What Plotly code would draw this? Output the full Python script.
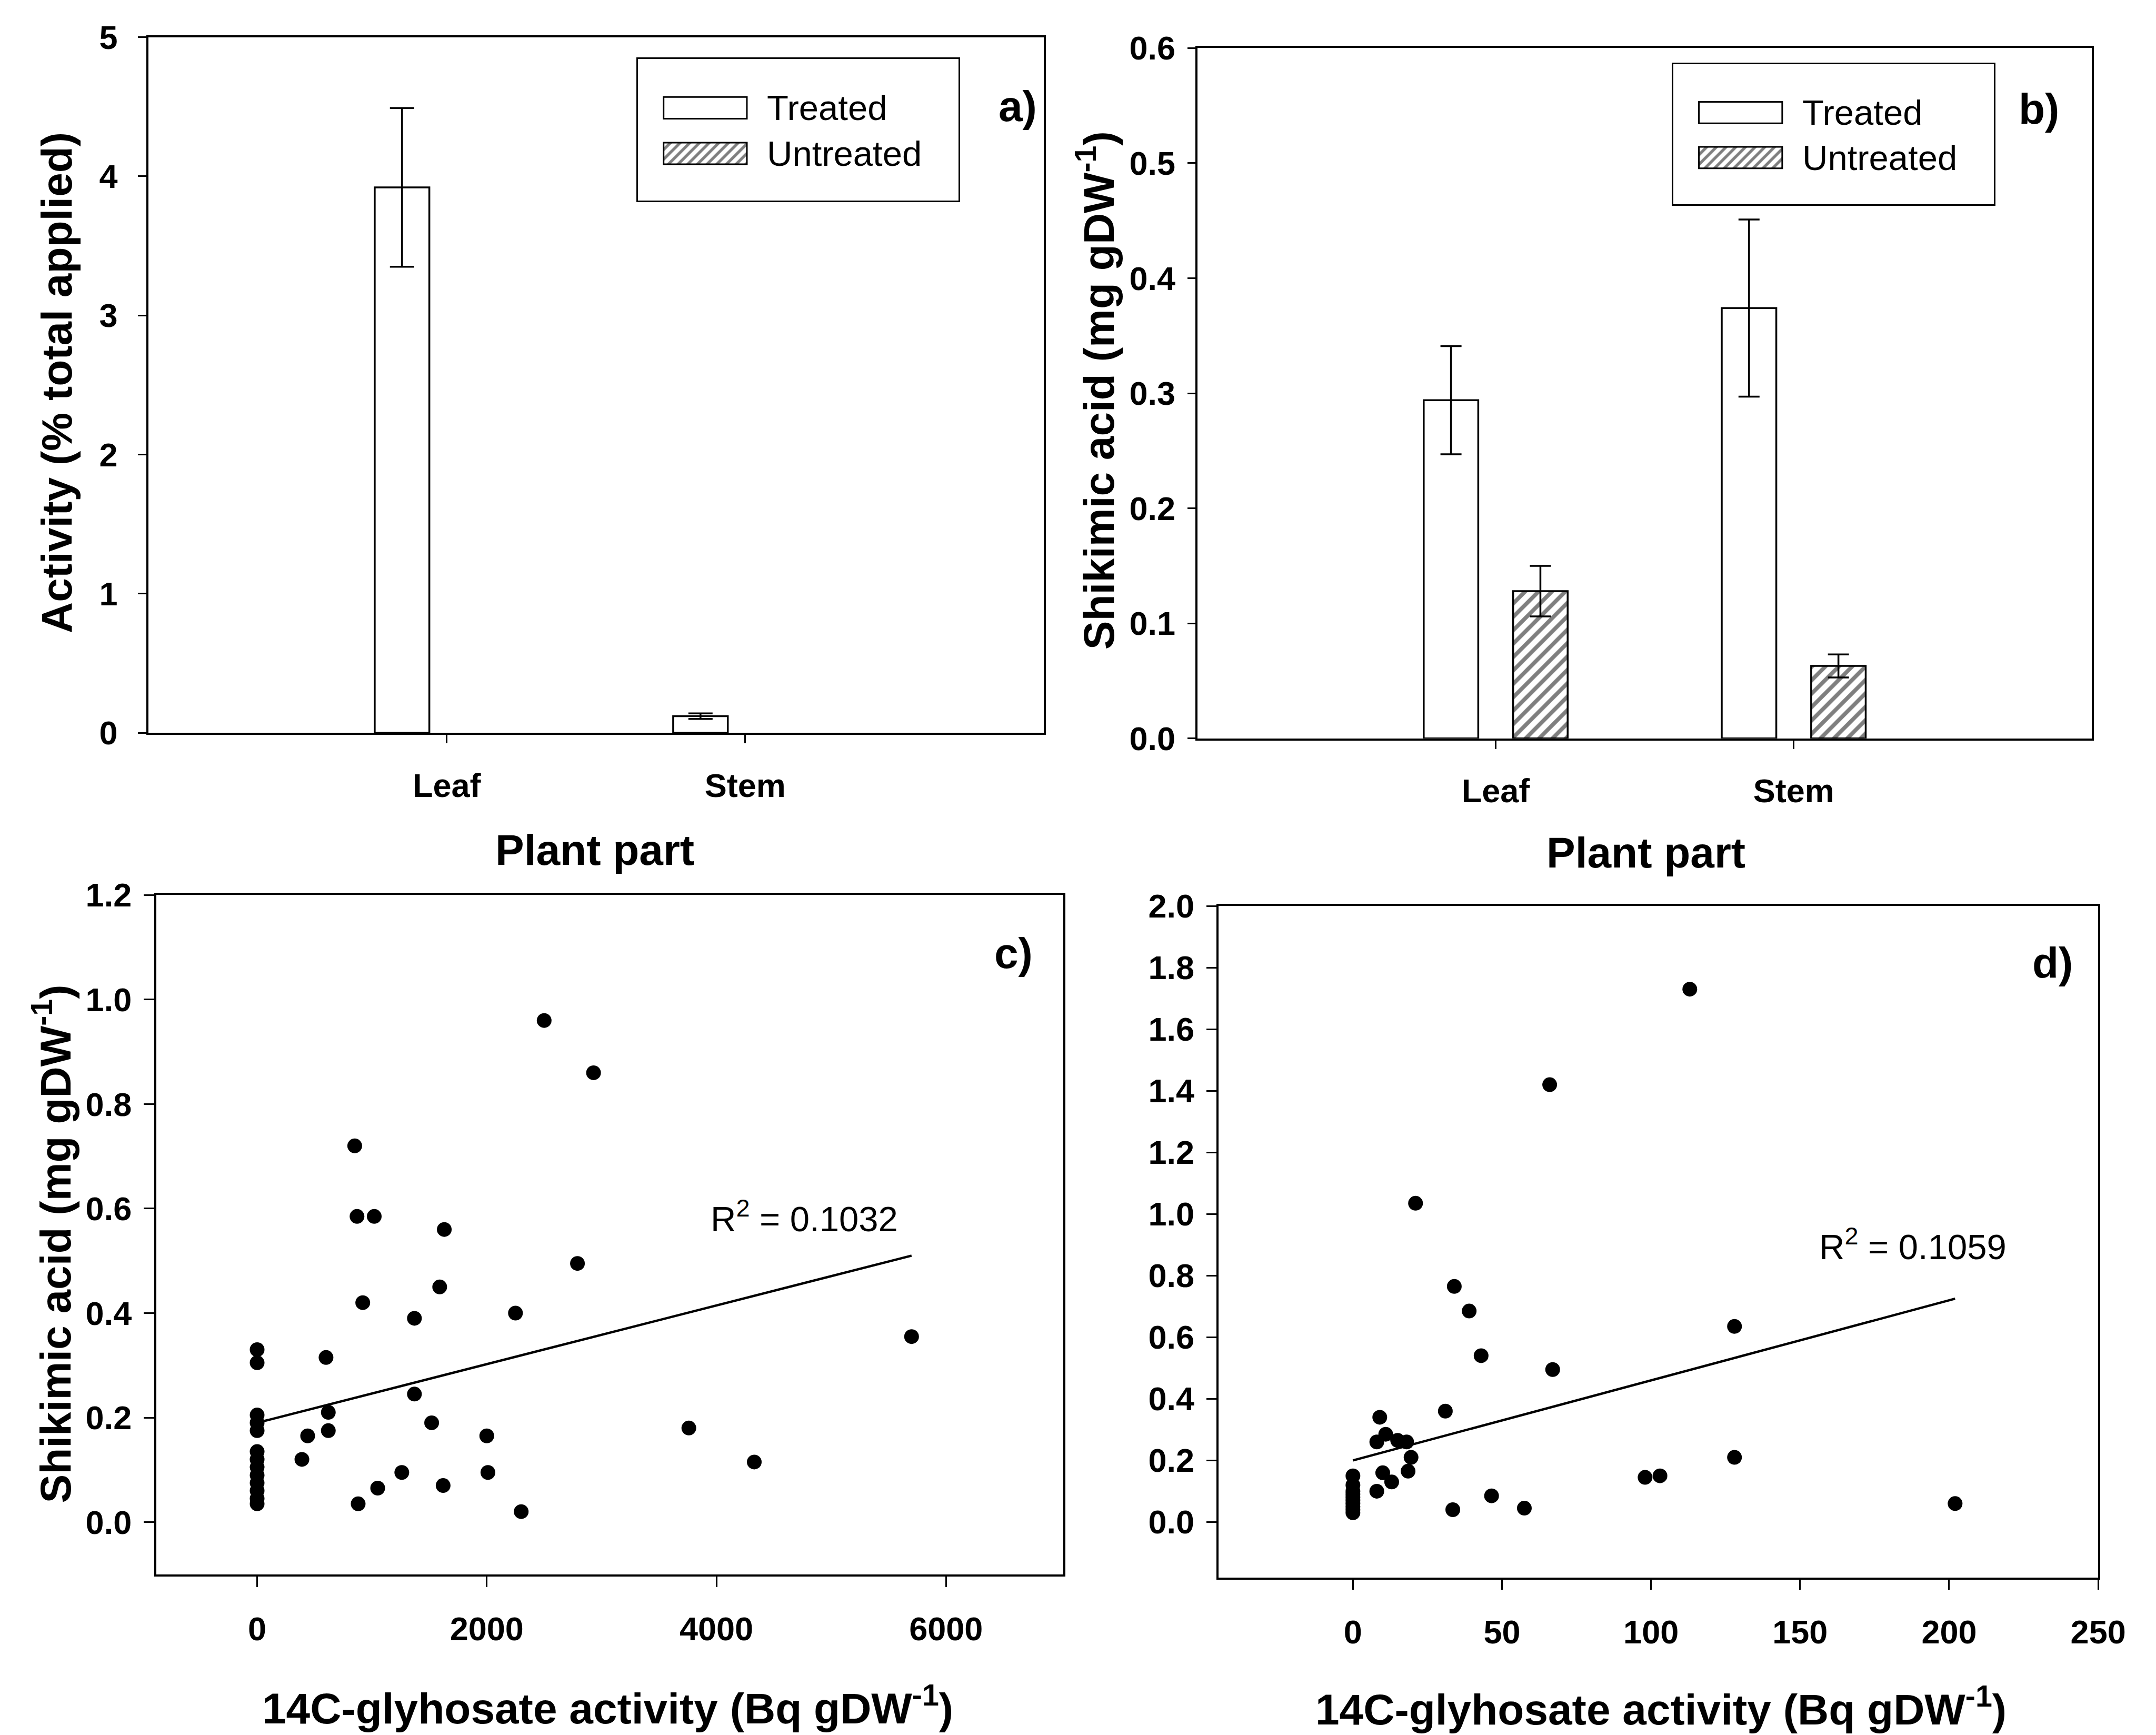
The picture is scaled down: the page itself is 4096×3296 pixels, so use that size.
import plotly.graph_objects as go

# ---------------- data ----------------
parts = ["Leaf", "Stem"]
series_names = ["Treated", "Untreated"]

a_treated = [3.92, 0.12]
a_treated_err = [0.57, 0.02]
a_untreated = [0.0, 0.0]

b_treated = [0.294, 0.374]
b_treated_err = [0.047, 0.077]
b_untreated = [0.128, 0.063]
b_untreated_err = [0.022, 0.010]

c_x = [2500, 2930, 850, 870, 1020, 1630, 2790, 1590, 920, 1370, 2250, 5700, 600,
       0, 0, 1370, 620, 1520, 0, 0, 0, 620, 3760, 440, 2000, 390, 4330, 1260,
       2010, 1620, 1050, 880, 2300, 0, 0, 0, 0, 0, 0, 0, 0]
c_y = [0.96, 0.86, 0.72, 0.585, 0.585, 0.56, 0.495, 0.45, 0.42, 0.39, 0.40, 0.355, 0.315,
       0.33, 0.305, 0.245, 0.21, 0.19, 0.205, 0.19, 0.175, 0.175, 0.18, 0.165, 0.165, 0.12, 0.115, 0.095,
       0.095, 0.07, 0.065, 0.035, 0.02, 0.135, 0.12, 0.105, 0.09, 0.075, 0.06, 0.045, 0.035]
c_fit_x = [0, 5700]
c_fit_y = [0.19, 0.51]
c_r2 = "0.1032"

d_x = [113, 66, 21, 34, 39, 128, 43, 67, 31, 9, 8, 11, 15, 18, 19.5, 18.5, 10, 13, 8,
       33.5, 46.5, 57.5, 98, 103, 128, 202, 0, 0, 0, 0, 0, 0, 0, 0, 0, 0]
d_y = [1.73, 1.42, 1.035, 0.765, 0.685, 0.635, 0.54, 0.495, 0.36, 0.34, 0.26, 0.285, 0.265, 0.26,
       0.21, 0.165, 0.16, 0.13, 0.10, 0.04, 0.085, 0.045, 0.145, 0.15, 0.21, 0.06,
       0.15, 0.12, 0.10, 0.09, 0.08, 0.07, 0.06, 0.05, 0.04, 0.03]
d_fit_x = [0, 202]
d_fit_y = [0.20, 0.725]
d_r2 = "0.1059"

# ---------------- style ----------------
FONT = "Liberation Sans"
TICK = 63
TITLE = 82
LEG = 67
LW = 3.5
BLACK = "black"
HATCH = dict(shape="/", fgcolor=BLACK, bgcolor="white", size=18, solidity=0.42)

fig = go.Figure()

def bar_pair(xa, ya, treated, t_err, untreated, u_err, capw, u_line=3.5):
    fig.add_trace(go.Bar(
        x=parts, y=treated, name=series_names[0], xaxis=xa, yaxis=ya,
        marker=dict(color="white", line=dict(color=BLACK, width=3.5)),
        error_y=dict(type="data", array=t_err, color=BLACK, thickness=3.5, width=capw),
        showlegend=False))
    fig.add_trace(go.Bar(
        x=parts, y=untreated, name=series_names[1], xaxis=xa, yaxis=ya,
        marker=dict(color="white", line=dict(color=BLACK, width=u_line), pattern=HATCH),
        error_y=(dict(type="data", array=u_err, color=BLACK, thickness=3.5, width=capw)
                 if u_err is not None else None),
        showlegend=False))

bar_pair("x", "y", a_treated, a_treated_err, a_untreated, None, 23, u_line=0)
bar_pair("x2", "y2", b_treated, b_treated_err, b_untreated, b_untreated_err, 20)

for xa, ya, xs, ys, fx, fy in [("x3", "y3", c_x, c_y, c_fit_x, c_fit_y),
                               ("x4", "y4", d_x, d_y, d_fit_x, d_fit_y)]:
    fig.add_trace(go.Scatter(x=fx, y=fy, mode="lines", xaxis=xa, yaxis=ya,
                             line=dict(color=BLACK, width=4.5), showlegend=False))
    fig.add_trace(go.Scatter(x=xs, y=ys, mode="markers", xaxis=xa, yaxis=ya,
                             marker=dict(color=BLACK, size=28), showlegend=False))

# legend keys (drawn in small auxiliary axes)
leg_y = [0.656, 0.334]
for xa, ya in [("x5", "y5"), ("x6", "y6")]:
    fig.add_trace(go.Bar(
        y=leg_y, x=[0.26, 0.26], base=[0.08, 0.08], width=0.153, orientation="h",
        xaxis=xa, yaxis=ya,
        marker=dict(color="white", line=dict(color=BLACK, width=3),
                    pattern=dict(shape=["", "/"], fgcolor=BLACK, bgcolor="white",
                                 size=13, solidity=0.42)),
        showlegend=False, hoverinfo="skip"))

def axis(domain, **kw):
    d = dict(domain=domain, showline=True, mirror=True, linecolor=BLACK, linewidth=LW,
             ticks="outside", ticklen=16, tickwidth=3, tickcolor=BLACK,
             showgrid=False, zeroline=False, automargin=False,
             tickfont=dict(family=FONT, size=TICK, color=BLACK, weight="bold"))
    d.update(kw)
    return d

def leg_axis(domain, anchor):
    return dict(domain=domain, range=[0, 1], showline=True, mirror=True, linecolor=BLACK,
                linewidth=3, ticks="", showticklabels=False, showgrid=False,
                zeroline=False, fixedrange=True, anchor=anchor, automargin=False)

fig.update_layout(
    width=4096, height=3296, margin=dict(l=0, r=0, t=0, b=0, autoexpand=False),
    paper_bgcolor="white", plot_bgcolor="white",
    barmode="group", bargap=0.4, bargroupgap=0.39,
    xaxis=axis([0.0688, 0.4841], anchor="y", range=[-1, 2], ticklabelstandoff=26),
    yaxis=axis([0.5776, 0.9786], anchor="x", range=[0, 5], dtick=1, ticklabelstandoff=26),
    xaxis2=axis([0.5555, 0.9702], anchor="y2", range=[-1, 2], ticklabelstandoff=26),
    yaxis2=axis([0.5744, 0.9723], anchor="x2", range=[0, 0.6], dtick=0.1,
                tickformat=".1f", ticklabelstandoff=10),
    xaxis3=axis([0.0724, 0.4931], anchor="y3", range=[-880, 7020], tick0=0, dtick=2000,
                tickformat="d", ticklen=20, ticklabelstandoff=26),
    yaxis3=axis([0.0926, 0.4841], anchor="x3", range=[-0.1, 1.2], tick0=0, dtick=0.2,
                tickformat=".1f", ticklen=20, ticklabelstandoff=10),
    xaxis4=axis([0.5653, 0.9732], anchor="y4", range=[-45, 250.01], tick0=0, dtick=50,
                tickformat="d", ticklen=20, ticklabelstandoff=26),
    yaxis4=axis([0.0908, 0.4778], anchor="x4", range=[-0.18, 2.0], tick0=0, dtick=0.2,
                tickformat=".1f", ticklen=20, ticklabelstandoff=10),
    xaxis5=leg_axis([0.2959, 0.4445], "y5"),
    yaxis5=leg_axis([0.8843, 0.9659], "x5"),
    xaxis6=leg_axis([0.7761, 0.9247], "y6"),
    yaxis6=leg_axis([0.8822, 0.9629], "x6"),
)

ann = []
def text(x, y, s, size, bold=True, angle=0, xanchor="center", yanchor="middle",
         xref="paper", yref="paper"):
    ann.append(dict(x=x, y=y, xref=xref, yref=yref, text=s, showarrow=False,
                    textangle=angle, xanchor=xanchor, yanchor=yanchor,
                    font=dict(family=FONT, size=size, color=BLACK,
                              weight="bold" if bold else "normal")))

# axis titles
text(0.0262, 0.7795, "Activity (% total applied)", TITLE, angle=-90)
text(0.5082, 0.7750, "Shikimic acid (mg gDW<sup>-1</sup>)", TITLE, angle=-90)
text(0.0240, 0.2830, "Shikimic acid (mg gDW<sup>-1</sup>)", TITLE, angle=-90)
text(0.2760, 0.5103, "Plant part", TITLE)
text(0.7634, 0.5087, "Plant part", TITLE)
text(0.2818, 0.0008, "14C-glyhosate activity (Bq gDW<sup>-1</sup>)", TITLE, yanchor="bottom")
text(0.7704, 0.0004, "14C-glyhosate activity (Bq gDW<sup>-1</sup>)", TITLE, yanchor="bottom")
# panel letters
text(0.4720, 0.9390, "a)", TITLE)
text(0.9457, 0.9374, "b)", TITLE)
text(0.4700, 0.4508, "c)", TITLE)
text(0.9521, 0.4453, "d)", TITLE)
# R^2
text(0.3731, 0.2987, "R<sup>2</sup> = " + c_r2, LEG, bold=False)
text(0.8871, 0.2829, "R<sup>2</sup> = " + d_r2, LEG, bold=False)
# legend texts
for xr, yr in [("x5", "y5"), ("x6", "y6")]:
    for name, yy in zip(series_names, leg_y):
        text(0.40, yy, name, LEG, bold=False, xanchor="left", xref=xr, yref=yr)

fig.update_layout(annotations=ann)
fig.write_html("out.html")
